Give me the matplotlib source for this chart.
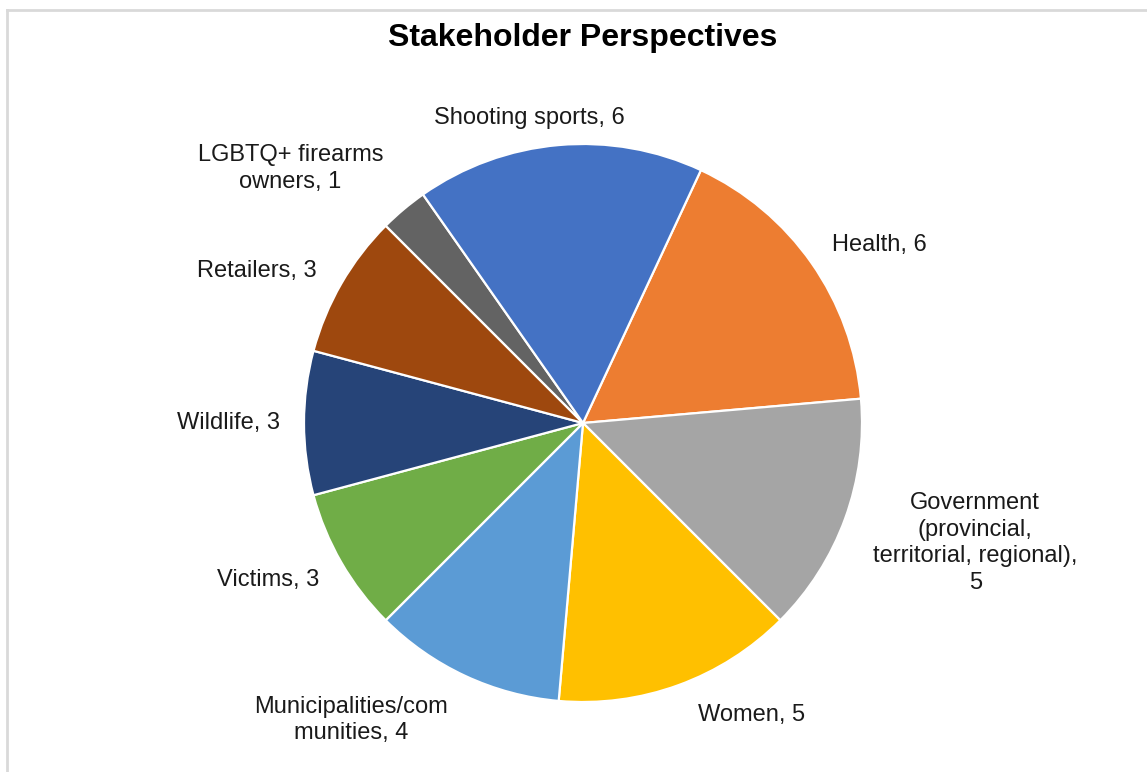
import numpy as np
import matplotlib.pyplot as plt
from matplotlib.lines import Line2D

plt.rcParams['font.family'] = ['Liberation Sans', 'DejaVu Sans']

# data (Excel order, clockwise starting with Health)
labels = ["Health", "Government\n(provincial,\nterritorial, regional),\n", "Women",
          "Municipalities/com\nmunities", "Victims", "Wildlife", "Retailers",
          "LGBTQ+ firearms\nowners", "Shooting sports"]
values = [6, 5, 5, 4, 3, 3, 3, 1, 6]
colors = ["#ED7D31", "#A5A5A5", "#FFC000", "#5B9BD5", "#70AD47",
          "#264478", "#9E480E", "#636363", "#4472C4"]

# label placement: angle nudge (deg, clockwise) and distance (x radius)
lab_shift = [4, -3, -10, 13, 3.5, 0, -5, -9, -5]
lab_dist = [1.24, 1.47, 1.21, 1.35, 1.26, 1.27, 1.29, 1.39, 1.11]

W, H = 1147, 772
fig = plt.figure(figsize=(W/100, H/100), dpi=100)
ax = fig.add_axes([0, 0, 1, 1])

cx, cy, R = 583, H - 423, 279
wedges, _ = ax.pie(values, colors=colors, startangle=65, counterclock=False,
                   center=(cx, cy), radius=R, frame=True,
                   wedgeprops=dict(edgecolor="white", linewidth=1.6))
ax.set_xlim(0, W)
ax.set_ylim(0, H)
ax.set_aspect("equal")
ax.axis("off")

for w, lab, v, sh, d in zip(wedges, labels, values, lab_shift, lab_dist):
    mid = (w.theta1 + w.theta2) / 2 - sh
    x = cx + d * R * np.cos(np.radians(mid))
    y = cy + d * R * np.sin(np.radians(mid))
    if lab.endswith("\n"):
        txt = f"{lab}{v}"
    else:
        txt = f"{lab}, {v}"
    ax.text(x, y, txt, ha="center", va="center", fontsize=17,
            color="#1a1a1a", linespacing=1.26)

ax.text(583, H - 38, "Stakeholder Perspectives", ha="center", va="center",
        fontsize=23, fontweight="bold", color="black")

# chart area border (left and top visible)
fig.add_artist(Line2D([7/W, 7/W], [0, 1 - 10/H], transform=fig.transFigure,
                      color="#D9D9D9", linewidth=2))
fig.add_artist(Line2D([7/W, 1], [1 - 10/H, 1 - 10/H], transform=fig.transFigure,
                      color="#D9D9D9", linewidth=2))

fig.savefig("out.png", dpi=100, facecolor="white")
